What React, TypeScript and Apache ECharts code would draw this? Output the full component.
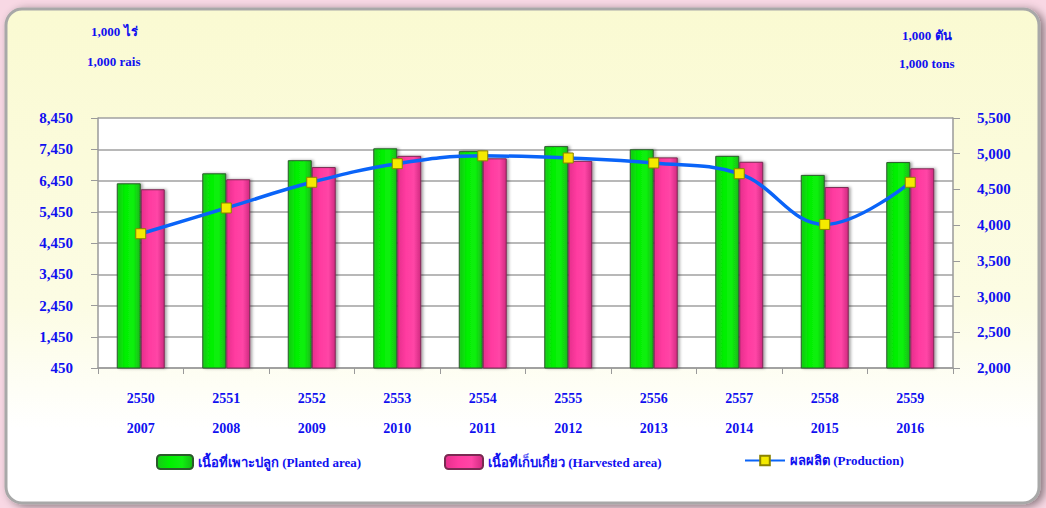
import React, { useEffect, useRef } from "react";
import * as echarts from "echarts";

const thaiYears = ["2550", "2551", "2552", "2553", "2554", "2555", "2556", "2557", "2558", "2559"];
const adYears = ["2007", "2008", "2009", "2010", "2011", "2012", "2013", "2014", "2015", "2016"];
const plantedArea = [6360, 6680, 7100, 7480, 7390, 7550, 7450, 7240, 6630, 7040];
const harvestedArea = [6170, 6490, 6880, 7240, 7160, 7080, 7190, 7050, 6240, 6840];
const production = [3880, 4240, 4600, 4860, 4970, 4940, 4870, 4720, 4010, 4600];

const leftAxis = { min: 450, max: 8450, interval: 1000 };
const rightAxis = { min: 2000, max: 5500, interval: 500 };

const namePlanted = "เนื้อที่เพาะปลูก (Planted area)";
const nameHarvested = "เนื้อที่เก็บเกี่ยว (Harvested area)";
const nameProduction = "ผลผลิต (Production)";

const FONT = "'Liberation Serif', 'Times New Roman', serif";
const BLUE = "#1010f0";

export default function App() {
  const ref = useRef<HTMLDivElement>(null);
  useEffect(() => {
    if (!ref.current) return;
    const chart = echarts.init(ref.current, undefined, { renderer: "svg" });
    const fmt = (v: number) => v.toLocaleString("en-US");
    const legendBase = {
      top: 449,
      itemGap: 6,
      textStyle: { color: BLUE, fontFamily: FONT, fontWeight: "bold", fontSize: 13 },
    };
    chart.setOption({
      animation: false,
      backgroundColor: "#f8d8e4",
      graphic: [
        {
          type: "rect",
          z: -10,
          shape: { x: 6, y: 9, width: 1033, height: 494, r: 16 },
          style: {
            fill: new echarts.graphic.LinearGradient(0, 0, 0, 1, [
              { offset: 0, color: "#fafad2" },
              { offset: 0.6, color: "#fcfce4" },
              { offset: 0.85, color: "#ffffff" },
              { offset: 1, color: "#ffffff" },
            ]),
            stroke: "#a8a8a8",
            lineWidth: 3,
            shadowBlur: 8,
            shadowColor: "rgba(0,0,0,0.45)",
            shadowOffsetX: 4,
            shadowOffsetY: 2,
          },
        },
        { type: "text", left: 91, top: 25, style: { text: "1,000 ไร่", fill: BLUE, font: `bold 13px ${FONT}` } },
        { type: "text", left: 87, top: 55, style: { text: "1,000 rais", fill: BLUE, font: `bold 13px ${FONT}` } },
        { type: "text", left: 902, top: 29, style: { text: "1,000 ตัน", fill: BLUE, font: `bold 13px ${FONT}` } },
        { type: "text", left: 899, top: 57, style: { text: "1,000 tons", fill: BLUE, font: `bold 13px ${FONT}` } },
      ],
      grid: {
        left: 98,
        right: 93,
        top: 118,
        bottom: 140,
        show: true,
        backgroundColor: "#ffffff",
        borderWidth: 0,
      },
      legend: [
        { ...legendBase, left: 151, data: [namePlanted], itemWidth: 36, itemHeight: 14 },
        { ...legendBase, left: 439, data: [nameHarvested], itemWidth: 38, itemHeight: 14 },
        { ...legendBase, left: 739, data: [nameProduction], itemWidth: 40, itemHeight: 12 },
      ],
      xAxis: {
        type: "category",
        data: thaiYears,
        boundaryGap: true,
        axisLine: { lineStyle: { color: "#9a9a9a", width: 1.5 } },
        axisTick: { show: true, length: 6, alignWithLabel: false, lineStyle: { color: "#9a9a9a" } },
        axisLabel: {
          margin: 15,
          lineHeight: 30,
          color: BLUE,
          fontFamily: FONT,
          fontWeight: "bold",
          fontSize: 14,
          formatter: (v: string, i: number) => `${v}\n${adYears[i]}`,
        },
      },
      yAxis: [
        {
          type: "value",
          min: leftAxis.min,
          max: leftAxis.max,
          interval: leftAxis.interval,
          axisLine: { show: true, lineStyle: { color: "#9a9a9a", width: 1.5 } },
          axisTick: { show: true, length: 7, lineStyle: { color: "#9a9a9a" } },
          splitLine: { lineStyle: { color: "#a0a0a0", width: 1.5 } },
          axisLabel: {
            margin: 25,
            color: BLUE,
            fontFamily: FONT,
            fontWeight: "bold",
            fontSize: 15,
            formatter: fmt,
          },
        },
        {
          type: "value",
          position: "right",
          min: rightAxis.min,
          max: rightAxis.max,
          interval: rightAxis.interval,
          axisLine: { show: true, lineStyle: { color: "#9a9a9a", width: 1.5 } },
          axisTick: { show: true, length: 7, lineStyle: { color: "#9a9a9a" } },
          splitLine: { show: false },
          axisLabel: {
            margin: 24,
            color: BLUE,
            fontFamily: FONT,
            fontWeight: "bold",
            fontSize: 15,
            formatter: fmt,
          },
        },
      ],
      series: [
        {
          name: namePlanted,
          type: "bar",
          data: plantedArea,
          barWidth: 24,
          barGap: "0%",
          itemStyle: {
            color: new echarts.graphic.LinearGradient(0, 0, 1, 0, [
              { offset: 0, color: "#18c818" },
              { offset: 0.35, color: "#00f000" },
              { offset: 0.7, color: "#10f010" },
              { offset: 1, color: "#14b814" },
            ]),
            borderColor: "#2c5a2c",
            borderWidth: 1,
            shadowColor: "rgba(0,0,0,0.35)",
            shadowBlur: 3,
            shadowOffsetX: 2,
            shadowOffsetY: 0,
          },
        },
        {
          name: nameHarvested,
          type: "bar",
          data: harvestedArea,
          barWidth: 24,
          barGap: "0%",
          itemStyle: {
            color: new echarts.graphic.LinearGradient(0, 0, 1, 0, [
              { offset: 0, color: "#e62f8c" },
              { offset: 0.35, color: "#ff3ba0" },
              { offset: 0.7, color: "#ff45a6" },
              { offset: 1, color: "#d02a80" },
            ]),
            borderColor: "#7a2a52",
            borderWidth: 1,
            shadowColor: "rgba(0,0,0,0.35)",
            shadowBlur: 3,
            shadowOffsetX: 2,
            shadowOffsetY: 0,
          },
        },
        {
          name: nameProduction,
          type: "line",
          yAxisIndex: 1,
          data: production,
          smooth: 0.4,
          symbol: "rect",
          symbolSize: 10,
          lineStyle: { color: "#0a64f8", width: 3.5 },
          itemStyle: { color: "#f4ea00", borderColor: "#8a8200", borderWidth: 1 },
          z: 5,
        },
      ],
    });
    return () => chart.dispose();
  }, []);
  return (
    <div
      ref={ref}
      style={{ position: "absolute", left: 0, top: 0, width: 1046, height: 508 }}
    />
  );
}
